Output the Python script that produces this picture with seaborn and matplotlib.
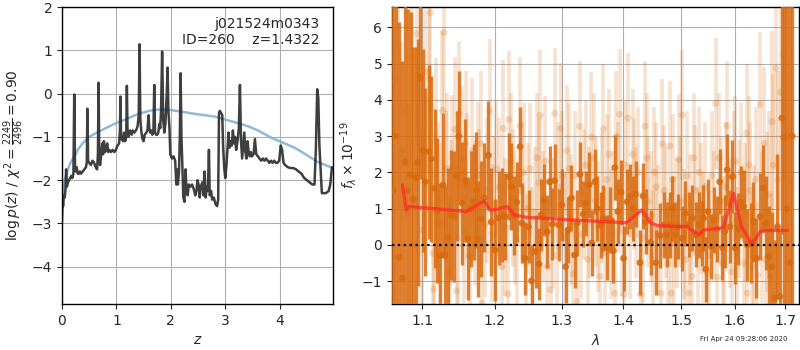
import matplotlib
matplotlib.use("Agg")
import matplotlib.pyplot as plt
from matplotlib.ticker import FixedLocator, FixedFormatter, NullLocator
import numpy as np
import pandas as pd
import seaborn as sns

# ---------------- redshift probability ----------------
z_grid = [0.000, 0.010, 0.020, 0.035, 0.050, 0.065, 0.075, 0.090, 0.110, 0.130,
          0.150, 0.170, 0.190, 0.210, 0.225, 0.240, 0.255, 0.270, 0.290, 0.310,
          0.330, 0.350, 0.380, 0.410, 0.440, 0.455, 0.467, 0.480, 0.500, 0.530,
          0.560, 0.590, 0.620, 0.645, 0.660, 0.672, 0.685, 0.700, 0.720, 0.740,
          0.755, 0.770, 0.790, 0.810, 0.830, 0.850, 0.870, 0.900, 0.930, 0.960,
          0.990, 1.020, 1.050, 1.065, 1.075, 1.085, 1.100, 1.120, 1.140, 1.160,
          1.180, 1.192, 1.205, 1.220, 1.250, 1.280, 1.300, 1.330, 1.360, 1.390,
          1.410, 1.425, 1.440, 1.460, 1.480, 1.500, 1.520, 1.550, 1.570, 1.590,
          1.605, 1.620, 1.640, 1.660, 1.680, 1.695, 1.710, 1.730, 1.750, 1.770,
          1.790, 1.805, 1.820, 1.840, 1.860, 1.880, 1.900, 1.925, 1.940, 1.955,
          1.975, 1.990, 2.020, 2.050, 2.080, 2.100, 2.115, 2.130, 2.150, 2.165,
          2.180, 2.195, 2.210, 2.230, 2.250, 2.270, 2.290, 2.310, 2.330, 2.360,
          2.390, 2.420, 2.450, 2.470, 2.490, 2.510, 2.530, 2.550, 2.580, 2.600,
          2.620, 2.640, 2.660, 2.680, 2.700, 2.715, 2.740, 2.760, 2.790, 2.820,
          2.850, 2.870, 2.885, 2.900, 2.925, 2.945, 2.960, 2.980, 3.000, 3.020,
          3.040, 3.060, 3.080, 3.100, 3.120, 3.140, 3.160, 3.180, 3.200, 3.225,
          3.250, 3.270, 3.290, 3.310, 3.330, 3.350, 3.370, 3.390, 3.410, 3.430,
          3.450, 3.470, 3.490, 3.520, 3.545, 3.570, 3.600, 3.630, 3.660, 3.690,
          3.720, 3.750, 3.780, 3.810, 3.840, 3.870, 3.900, 3.930, 3.960, 3.990,
          4.020, 4.045, 4.070, 4.100, 4.150, 4.200, 4.250, 4.300, 4.350, 4.400,
          4.450, 4.500, 4.550, 4.600, 4.640, 4.665, 4.690, 4.710, 4.730, 4.750,
          4.775, 4.800, 4.850, 4.900, 4.930, 4.960]
log_pz = [-2.95, -2.45, -2.60, -2.35, -2.40, -2.20, -1.75, -2.15, -2.05, -2.00,
          -1.95, -1.90, -1.95, -1.85, -0.02, -1.75, -1.80, -1.70, -1.85, -1.85,
          -1.80, -1.85, -1.80, -1.75, -1.70, -1.60, -0.35, -1.55, -1.60, -1.65,
          -1.55, -1.60, -1.70, -1.75, -1.40, 0.25, -1.45, -1.65, -1.40, -1.15,
          -1.40, -1.10, -1.35, -1.30, -1.15, -1.35, -1.30, -1.35, -1.30, -1.35,
          -1.30, -1.20, -1.15, -0.85, -0.07, -1.05, -1.00, -1.10, -0.90, -1.10,
          -1.00, 0.18, -0.95, -1.00, -0.85, -0.95, -0.85, -0.90, -0.85, -0.75,
          -0.50, 1.14, -0.60, -0.90, -1.05, -1.10, -0.95, -0.90, -0.85, -0.50,
          -0.80, -0.90, -0.85, -0.95, -0.90, 0.20, -0.90, -0.95, -0.95, -0.90,
          -0.70, -0.80, -0.40, 0.97, -0.60, -0.90, -0.70, 0.00, 0.60, -0.40,
          -0.80, -1.40, -1.50, -1.45, -1.55, -2.10, -1.75, -2.10, -1.80, -1.00,
          0.47, -1.00, -1.60, -2.40, -2.50, -1.75, -2.30, -2.35, -2.10, -2.15,
          -2.10, -2.20, -2.35, -2.25, -2.00, -2.10, -2.40, -2.15, -2.05, -2.35,
          -1.80, -2.40, -2.15, -2.25, -1.30, -2.35, -2.25, -2.45, -2.40, -2.55,
          -2.60, -2.45, -0.45, -0.40, -0.45, -0.50, -1.20, -1.70, -1.95, -1.70,
          -1.30, -0.90, -1.25, -1.10, -1.20, -0.85, -1.15, -1.00, -1.30, -1.10,
          -0.80, 0.20, -1.10, -1.50, -1.20, -0.90, -1.35, -1.50, -1.10, -1.35,
          -1.45, -1.35, -1.45, -1.40, -1.05, -1.40, -1.45, -1.50, -1.55, -1.50,
          -1.55, -1.50, -1.55, -1.60, -1.55, -1.60, -1.55, -1.60, -1.60, -1.55,
          -1.20, -1.30, -1.60, -1.65, -1.70, -1.72, -1.72, -1.75, -1.80, -1.85,
          -1.95, -2.00, -2.05, -2.10, -2.10, -1.30, 0.10, -0.10, -1.20, -1.70,
          -2.30, -2.30, -2.30, -2.25, -2.10, -1.70]

z_prior = [0.0, 0.05, 0.1, 0.15, 0.2, 0.25, 0.3, 0.4, 0.5, 0.6, 0.8, 1.0, 1.2,
           1.4, 1.6, 1.75, 2.0, 2.2, 2.45, 2.8, 3.0, 3.2, 3.43, 3.6, 3.86, 4.0,
           4.29, 4.5, 4.7, 4.98]
prior = [-2.40, -2.00, -1.78, -1.62, -1.50, -1.40, -1.28, -1.12, -1.00, -0.93,
         -0.80, -0.68, -0.58, -0.47, -0.40, -0.37, -0.38, -0.42, -0.47, -0.53,
         -0.60, -0.67, -0.76, -0.85, -1.03, -1.10, -1.26, -1.42, -1.58, -1.72]

# ---------------- spectrum ----------------
wave_bin = [1.0620, 1.0655, 1.0698, 1.0740, 1.0775, 1.0810, 1.0845, 1.0879, 1.0912, 1.0937,
            1.0971, 1.1005, 1.1037, 1.1083, 1.1120, 1.1166, 1.1200, 1.1235, 1.1276, 1.1304,
            1.1345, 1.1382, 1.1424, 1.1460, 1.1493, 1.1538, 1.1580, 1.1621, 1.1660, 1.1696,
            1.1737, 1.1759, 1.1806, 1.1847, 1.1907, 1.1948, 1.2003, 1.2053, 1.2100, 1.2153,
            1.2203, 1.2239, 1.2278, 1.2318, 1.2368, 1.2393, 1.2443, 1.2494, 1.2539, 1.2603,
            1.2653, 1.2689, 1.2728, 1.2779, 1.2813, 1.2854, 1.2893, 1.2953, 1.3003, 1.3062,
            1.3100, 1.3154, 1.3202, 1.3246, 1.3288, 1.3337, 1.3380, 1.3434, 1.3478, 1.3526,
            1.3570, 1.3624, 1.3667, 1.3721, 1.3775, 1.3830, 1.3856, 1.3904, 1.3960, 1.4002,
            1.4061, 1.4106, 1.4158, 1.4205, 1.4280, 1.4332, 1.4379, 1.4466, 1.4553, 1.4628,
            1.4697, 1.4744, 1.4802, 1.4843, 1.4901, 1.4941, 1.5019, 1.5080, 1.5141, 1.5205,
            1.5266, 1.5327, 1.5377, 1.5410, 1.5452, 1.5494, 1.5558, 1.5606, 1.5657, 1.5712,
            1.5763, 1.5811, 1.5856, 1.5904, 1.5949, 1.6010, 1.6063, 1.6123, 1.6174, 1.6242,
            1.6307, 1.6361, 1.6421, 1.6493, 1.6552, 1.6606, 1.6671, 1.6725, 1.6784, 1.6840,
            1.6889, 1.6930, 1.6970, 1.7030, 1.7090, 1.7140]
flux_bin = [1.50, 3.00, -0.34, -0.92, 2.30, 1.50, 1.93, 1.26, 1.86, 2.28,
            4.62, 2.60, 1.74, 2.57, 2.37, 1.56, 0.95, -0.29, 1.65, -0.28,
            0.21, 0.83, 0.79, 1.90, 3.00, 1.15, 1.77, 0.17, 1.00, 1.19,
            1.51, 0.17, 0.71, 1.30, 2.47, 0.63, -0.14, 0.74, 0.83, 0.78,
            1.88, 1.60, 0.81, 1.18, 2.71, 0.60, -0.37, 0.50, -0.99, -0.18,
            -0.53, 0.83, 1.24, 0.37, 1.74, 0.57, 1.77, 0.55, 1.10, -0.60,
            0.41, 1.29, -0.28, 0.60, 1.95, 0.85, 1.15, 1.65, 0.05, 1.74,
            1.00, 0.55, 0.74, -0.07, 0.69, -0.16, 2.13, 0.92, 1.45, -0.37,
            1.19, 1.33, 1.01, 1.40, -0.49, 1.35, 0.64, 0.07, -0.49, 0.26,
            0.55, 0.28, 0.55, 1.01, 0.28, 0.50, 0.18, 0.87, 0.57, 0.74,
            0.28, 0.55, 0.32, 0.74, -0.67, 0.92, -0.05, 0.69, 0.44, 1.74,
            -0.07, 0.37, 2.07, 0.50, 1.88, -0.09, 0.44, 1.18, 1.06, 0.00,
            0.05, 0.64, -0.37, 0.78, 1.56, 0.60, -0.32, -0.60, -1.47, 0.50,
            -1.42, 3.50, 2.96, 1.00, -0.50, 3.00]
err_bin = [8.0, 7.0, 6.5, 6.0, 5.5, 5.0, 4.5, 4.2, 3.6, 3.4,
           2.8, 2.8, 2.6, 2.4, 2.3, 2.2, 2.0, 2.0, 2.0, 1.9,
           1.9, 1.8, 1.8, 1.8, 1.8, 1.7, 1.7, 1.7, 1.6, 1.6,
           1.6, 1.6, 1.6, 1.5, 1.5, 1.5, 1.4, 1.3, 1.3, 1.2,
           1.2, 1.2, 1.1, 1.1, 1.1, 1.1, 1.0, 1.0, 1.0, 1.0,
           1.0, 1.0, 1.0, 1.0, 1.0, 1.0, 1.0, 1.0, 1.0, 1.0,
           0.9, 0.9, 0.9, 0.9, 0.9, 0.9, 0.9, 0.9, 0.9, 0.9,
           0.9, 0.9, 0.9, 0.9, 0.9, 0.9, 0.9, 0.9, 0.9, 0.9,
           0.9, 0.9, 0.9, 0.9, 0.9, 0.9, 0.9, 0.9, 0.9, 0.9,
           0.9, 0.9, 0.9, 0.9, 0.9, 0.9, 0.9, 0.9, 0.9, 0.9,
           0.9, 0.9, 0.9, 0.9, 0.9, 0.9, 0.9, 0.9, 0.9, 0.9,
           0.9, 1.0, 1.0, 1.0, 1.0, 1.0, 1.0, 1.0, 1.0, 1.0,
           1.1, 1.1, 1.1, 1.2, 1.2, 1.3, 1.4, 1.5, 1.6, 2.0,
           1.8, 3.2, 6.0, 8.0, 9.0, 10.0]

wave_raw = [1.0630, 1.0680, 1.0725, 1.0782, 1.0830, 1.0867, 1.0930, 1.0990, 1.1040, 1.1090,
            1.1106, 1.1137, 1.1150, 1.1180, 1.1268, 1.1290, 1.1330, 1.1359, 1.1400, 1.1440,
            1.1461, 1.1497, 1.1530, 1.1570, 1.1610, 1.1680, 1.1760, 1.1800, 1.1818, 1.1856,
            1.1925, 1.1960, 1.2020, 1.2105, 1.2123, 1.2188, 1.2203, 1.2260, 1.2320, 1.2368,
            1.2420, 1.2480, 1.2550, 1.2620, 1.2668, 1.2720, 1.2780, 1.2828, 1.2893, 1.2940,
            1.2983, 1.3050, 1.3120, 1.3180, 1.3246, 1.3283, 1.3350, 1.3410, 1.3473, 1.3540,
            1.3613, 1.3667, 1.3720, 1.3790, 1.3851, 1.3883, 1.3937, 1.4002, 1.4078, 1.4155,
            1.4220, 1.4292, 1.4366, 1.4420, 1.4500, 1.4560, 1.4643, 1.4669, 1.4740, 1.4802,
            1.4825, 1.4880, 1.4959, 1.5019, 1.5080, 1.5145, 1.5205, 1.5260, 1.5330, 1.5410,
            1.5483, 1.5560, 1.5638, 1.5669, 1.5740, 1.5800, 1.5856, 1.5949, 1.6010, 1.6080,
            1.6174, 1.6228, 1.6242, 1.6300, 1.6380, 1.6441, 1.6493, 1.6572, 1.6630, 1.6700,
            1.6750, 1.6804, 1.6850, 1.6903, 1.6969, 1.7030,
            1.1210, 1.1240, 1.1310, 1.1390, 1.1480, 1.1590, 1.1640, 1.1720, 1.1780, 1.1880,
            1.1990, 1.2060, 1.2150, 1.2230, 1.2290, 1.2390, 1.2450, 1.2520, 1.2590, 1.2650,
            1.2750, 1.2860, 1.2920, 1.3010, 1.3080, 1.3150, 1.3210, 1.3310, 1.3380, 1.3440,
            1.3510, 1.3580, 1.3640, 1.3690, 1.3760, 1.3820, 1.3910, 1.3970, 1.4030, 1.4110,
            1.4180, 1.4250, 1.4330, 1.4400, 1.4470, 1.4530, 1.4600, 1.4700, 1.4770, 1.4850,
            1.4920, 1.4990, 1.5050, 1.5110, 1.5170, 1.5230, 1.5300, 1.5370, 1.5440, 1.5520,
            1.5600, 1.5700, 1.5770, 1.5830, 1.5900, 1.5980, 1.6040, 1.6120, 1.6200, 1.6270,
            1.6340, 1.6410, 1.6530, 1.6600, 1.6670, 1.6730]
flux_raw = [2.00, 4.50, 2.60, 3.72, 0.90, 5.19, 5.83, 0.40, 4.77, 4.59,
            6.40, -0.23, -1.22, 2.85, 3.71, 5.86, 2.10, -0.78, 2.14, 3.19,
            -1.27, 3.63, 2.39, 0.40, 1.65, 2.60, 1.93, 2.79, -1.60, 0.55,
            3.69, 0.32, 2.10, -0.60, 3.21, -1.35, 3.46, 1.30, 0.10, 3.28,
            2.00, 1.00, -0.20, 2.40, 3.57, 0.80, -0.60, -1.24, 3.63, 1.60,
            3.21, 0.20, 2.10, -0.80, -1.56, 3.27, 1.40, -0.40, 2.97, 1.20,
            -0.87, 3.20, 1.80, 0.30, -1.33, 3.00, 3.60, -1.38, 3.50, 2.50,
            0.90, -1.38, 3.28, 1.20, -0.30, 1.60, -1.33, 2.78, 0.90, 2.73,
            -1.33, 0.10, 2.36, 3.58, -0.40, -1.33, -0.87, 1.50, 2.00, 0.20,
            -0.78, 1.90, 3.90, -0.89, 1.20, 0.10, 3.28, -0.74, 2.30, 1.00,
            -0.50, 3.08, -1.33, 1.50, 0.20, -0.83, 3.87, 2.80, 0.90, -0.90,
            2.20, 4.87, 1.80, 4.21, 5.28, 3.00,
            1.20, 0.60, 1.60, 0.90, 0.20, 2.80, -0.30, 0.90, 1.20, 1.50,
            1.10, 1.60, 0.50, 2.30, 0.80, 1.50, -0.50, 2.10, 0.90, 1.70,
            2.30, 0.60, -0.30, 1.90, 2.60, 0.70, 1.90, 0.30, 2.20, 0.90,
            2.40, 0.50, 1.30, -0.20, 2.50, 0.80, 1.60, 0.40, 2.20, 0.30,
            1.70, 2.00, 0.20, 2.40, 0.80, 2.00, 0.40, 1.50, -0.50, 1.80,
            0.60, 1.20, 0.30, 1.90, 0.70, 2.40, -0.20, 1.00, 1.60, -0.30,
            0.80, 2.40, -0.50, 1.60, 0.60, 1.90, -0.20, 2.00, 0.90, 2.20,
            -0.60, 1.80, 0.50, -0.40, 1.40, 3.40]
err_raw = [4.0, 3.5, 3.0, 3.0, 3.0, 3.0, 3.0, 2.8, 2.6, 2.6,
           2.8, 2.4, 2.4, 2.3, 2.2, 2.2, 2.1, 2.1, 2.0, 2.0,
           2.0, 2.0, 2.0, 2.0, 2.0, 2.0, 2.0, 2.0, 2.0, 2.0,
           2.0, 1.9, 1.9, 1.9, 1.9, 1.9, 1.9, 1.9, 1.9, 1.9,
           1.9, 1.8, 1.8, 1.8, 1.8, 1.8, 1.8, 1.8, 1.8, 1.8,
           1.8, 1.8, 1.8, 1.8, 1.8, 1.8, 1.8, 1.8, 1.8, 1.8,
           1.8, 1.8, 1.8, 1.8, 1.8, 1.8, 1.8, 1.8, 1.8, 1.8,
           1.8, 1.8, 1.8, 1.8, 1.8, 1.8, 1.8, 1.8, 1.8, 1.8,
           1.8, 1.8, 1.8, 1.8, 1.8, 1.8, 1.8, 1.8, 1.8, 1.8,
           1.8, 1.8, 1.8, 1.8, 1.8, 1.8, 1.8, 1.8, 1.8, 1.9,
           1.9, 1.9, 1.9, 1.9, 2.0, 2.0, 2.0, 2.1, 2.2, 2.3,
           2.5, 2.8, 3.0, 3.2, 3.5, 4.0,
           2.2, 2.2, 2.1, 2.0, 2.0, 2.0, 2.0, 2.0, 2.0, 2.0,
           1.9, 1.9, 1.9, 1.9, 1.9, 1.9, 1.9, 1.8, 1.8, 1.8,
           1.8, 1.8, 1.8, 1.8, 1.8, 1.8, 1.8, 1.8, 1.8, 1.8,
           1.8, 1.8, 1.8, 1.8, 1.8, 1.8, 1.8, 1.8, 1.8, 1.8,
           1.8, 1.8, 1.8, 1.8, 1.8, 1.8, 1.8, 1.8, 1.8, 1.8,
           1.8, 1.8, 1.8, 1.8, 1.8, 1.8, 1.8, 1.8, 1.8, 1.8,
           1.8, 1.8, 1.8, 1.8, 1.8, 1.8, 1.8, 1.9, 1.9, 1.9,
           2.0, 2.0, 2.1, 2.2, 2.3, 2.5]

wave_model = [1.0740, 1.0790, 1.0825, 1.1600, 1.1850, 1.1930, 1.2035, 1.2145, 1.2190,
              1.2278, 1.2460, 1.3030, 1.4050, 1.4310, 1.4470, 1.4590, 1.5110, 1.5320,
              1.5410, 1.5730, 1.5790, 1.5975, 1.6130, 1.6330, 1.6500, 1.6636, 1.7045]
flux_model = [1.65, 0.96, 1.06, 0.92, 1.22, 0.96, 0.98, 1.05, 1.05,
              0.83, 0.76, 0.70, 0.61, 0.96, 0.60, 0.53, 0.50, 0.28,
              0.41, 0.46, 0.50, 1.42, 0.50, 0.02, 0.37, 0.40, 0.40]

tick_waves = [1.1, 1.2, 1.3, 1.4, 1.5, 1.6, 1.7]
tick_labels = ["1.1", "1.2", "1.3", "1.4", "1.5", "1.6", "1.7"]

obj_label = "j021524m0343\nID=260    z=1.4322"
stamp = "Fri Apr 24 09:28:06 2020"

# ---------------- figure ----------------
sns.set_style("ticks", {"axes.grid": True, "grid.color": "#b0b0b0",
                        "axes.edgecolor": "black", "xtick.direction": "out",
                        "ytick.direction": "out"})
plt.rcParams["font.family"] = ["DejaVu Sans"]
plt.rcParams["axes.linewidth"] = 1.0

fig = plt.figure(figsize=(8, 3.5), dpi=100)
ax1 = fig.add_axes([62 / 800, 46 / 350, 271 / 800, 297 / 350])
ax2 = fig.add_axes([392 / 800, 46 / 350, 407 / 800, 297 / 350])

pz = pd.DataFrame({"z": z_grid, "logpz": log_pz})
pr = pd.DataFrame({"z": z_prior, "prior": prior})
sns.lineplot(data=pr, x="z", y="prior", ax=ax1, color="#7aaed6", lw=1.8,
             alpha=0.85, sort=False, estimator=None)
sns.lineplot(data=pz, x="z", y="logpz", ax=ax1, color="#2a2a2a", lw=1.8,
             alpha=0.9, sort=False, estimator=None)
ax1.set_xlim(0, 4.98)
ax1.set_ylim(-4.86, 2.0)
ax1.set_xticks([0, 1, 2, 3, 4])
ax1.set_yticks([-4, -3, -2, -1, 0, 1, 2])
ax1.set_xlabel("$z$", fontsize=10)
ax1.set_ylabel(r"$\log p(z)$ / $\chi^2=\frac{2249}{2496}=0.90$", fontsize=10)
ax1.text(0.95, 0.965, obj_label, transform=ax1.transAxes, ha="right",
         va="top", fontsize=10, linespacing=1.15)
ax1.tick_params(labelsize=10)

orange = (0.85, 0.42, 0.06)
raw = pd.DataFrame({"wave": wave_raw, "flux": flux_raw, "err": err_raw})
binned = pd.DataFrame({"wave": wave_bin, "flux": flux_bin, "err": err_bin})

ax2.vlines(raw["wave"], raw["flux"] - raw["err"], raw["flux"] + raw["err"],
           color=orange, alpha=0.2, lw=2.6, zorder=2)
sns.scatterplot(data=raw, x="wave", y="flux", ax=ax2, color=orange, alpha=0.22,
                s=26, edgecolor="none", zorder=2)
ax2.vlines(binned["wave"], binned["flux"] - binned["err"],
           binned["flux"] + binned["err"], color=orange, alpha=0.85, lw=2.4,
           zorder=3)
sns.scatterplot(data=binned, x="wave", y="flux", ax=ax2, color=orange,
                alpha=0.9, s=24, edgecolor="none", zorder=3)
model = pd.DataFrame({"wave": wave_model, "flux": flux_model})
sns.lineplot(data=model, x="wave", y="flux", ax=ax2, color="#ff2a2a", lw=2.4,
             alpha=0.75, sort=False, estimator=None, zorder=4)
ax2.axhline(0, color="black", ls=":", lw=1.6, zorder=5)

ax2.set_xscale("log")
ax2.set_xlim(1.0607, 1.728)
ax2.set_ylim(-1.63, 6.56)
ax2.xaxis.set_major_locator(FixedLocator(tick_waves))
ax2.xaxis.set_major_formatter(FixedFormatter(tick_labels))
ax2.xaxis.set_minor_locator(NullLocator())
ax2.set_yticks([-1, 0, 1, 2, 3, 4, 5, 6])
ax2.set_xlabel(r"$\lambda$", fontsize=10)
ax2.set_ylabel(r"$f_\lambda\times10^{-19}$", fontsize=10, labelpad=2)
ax2.tick_params(labelsize=10)

for ax in (ax1, ax2):
    ax.grid(True, color="#b0b0b0", lw=0.8)
    ax.set_axisbelow(True)
    for sp in ax.spines.values():
        sp.set_visible(True)
        sp.set_color("black")

fig.text(0.985, 0.022, stamp, ha="right", va="bottom", fontsize=5)

fig.savefig("out.png", dpi=100)
